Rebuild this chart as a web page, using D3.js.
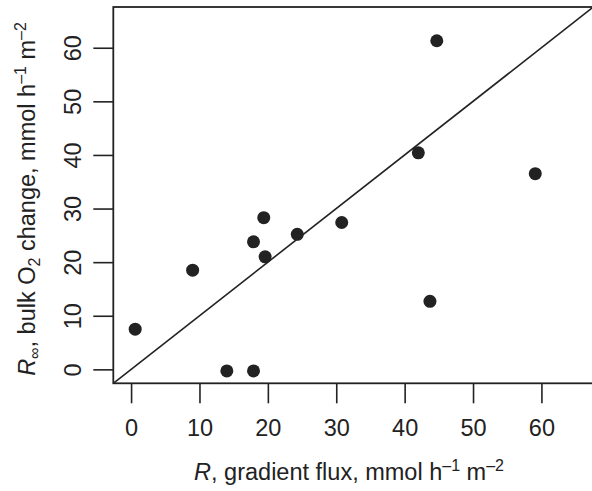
<!DOCTYPE html>
<html>
<head>
<meta charset="utf-8">
<script src="https://cdn.jsdelivr.net/npm/d3@7"></script>
<style>
  body { margin: 0; background: #fff; }
  svg { display: block; font-family: "Liberation Sans", Arial, sans-serif; }
</style>
</head>
<body>
<div id="chart"></div>
<script>
// gradient flux R (x) and bulk O2 change R-infinity (y), mmol h-1 m-2
var gradientFlux = [0.6, 9.0, 14.0, 17.9, 17.9, 19.4, 19.6, 24.3, 30.8, 42.0, 43.7, 44.7, 59.1];
var bulkChange   = [7.5, 18.5, -0.3, -0.3, 23.8, 28.3, 21.0, 25.2, 27.4, 40.4, 12.7, 61.3, 36.5];
var tickValues = [0, 10, 20, 30, 40, 50, 60];
var limits = [-2.6, 67.6];

var settings = {
  width: 592,
  height: 491,
  left: 113.3,
  right: 593.4,
  top: 7,
  bottom: 383.3,
  ink: '#222',
  font: 23.5,
  small: 16
};

var x = d3.scaleLinear().domain(limits).range([settings.left, settings.right]);
var y = d3.scaleLinear().domain(limits).range([settings.bottom, settings.top]);

var svg = d3.select('#chart').append('svg')
  .attr('width', settings.width)
  .attr('height', settings.height);

// x axis
var xAxis = svg.append('g')
  .attr('transform', 'translate(0,' + settings.bottom + ')')
  .call(d3.axisBottom(x).tickValues(tickValues).tickSize(20).tickPadding(16));
xAxis.select('.domain').remove();
xAxis.selectAll('line').attr('stroke', settings.ink).attr('stroke-width', 1.6);
xAxis.selectAll('text')
  .attr('fill', settings.ink)
  .style('font-size', settings.font + 'px')
  .style('font-family', '"Liberation Sans", Arial, sans-serif');

// y axis, labels turned like R's default
var yAxis = svg.append('g')
  .attr('transform', 'translate(' + settings.left + ',0)')
  .call(d3.axisLeft(y).tickValues(tickValues).tickSize(20));
yAxis.select('.domain').remove();
yAxis.selectAll('line').attr('stroke', settings.ink).attr('stroke-width', 1.6);
yAxis.selectAll('text')
  .attr('x', null).attr('dy', null)
  .attr('fill', settings.ink)
  .attr('text-anchor', 'middle')
  .attr('transform', 'translate(-32,0) rotate(-90)')
  .style('font-size', settings.font + 'px')
  .style('font-family', '"Liberation Sans", Arial, sans-serif');

// 1:1 line
svg.append('line')
  .attr('x1', x(limits[0])).attr('y1', y(limits[0]))
  .attr('x2', x(limits[1])).attr('y2', y(limits[1]))
  .attr('stroke', settings.ink)
  .attr('stroke-width', 1.6);

// box
svg.append('rect')
  .attr('x', x(limits[0])).attr('y', y(limits[1]))
  .attr('width', x(limits[1]) - x(limits[0]))
  .attr('height', y(limits[0]) - y(limits[1]))
  .attr('fill', 'none')
  .attr('stroke', settings.ink)
  .attr('stroke-width', 1.8);

// points
svg.append('g')
  .selectAll('circle')
  .data(d3.range(gradientFlux.length))
  .enter().append('circle')
  .attr('cx', function(i) { return x(gradientFlux[i]); })
  .attr('cy', function(i) { return y(bulkChange[i]); })
  .attr('r', 6.5)
  .attr('fill', settings.ink);

// axis titles
var xTitle = svg.append('text')
  .attr('x', 349).attr('y', 480)
  .attr('text-anchor', 'middle')
  .attr('fill', settings.ink)
  .style('font-size', settings.font + 'px');
xTitle.append('tspan').style('font-style', 'italic').text('R');
xTitle.append('tspan').text(', gradient flux, mmol h');
xTitle.append('tspan').attr('dy', -9).style('font-size', settings.small + 'px').text('\u20131');
xTitle.append('tspan').attr('dy', 9).text(' m');
xTitle.append('tspan').attr('dy', -9).style('font-size', settings.small + 'px').text('\u20132');

var yTitle = svg.append('text')
  .attr('transform', 'translate(35,199) rotate(-90)')
  .attr('text-anchor', 'middle')
  .attr('fill', settings.ink)
  .style('font-size', settings.font + 'px');
yTitle.append('tspan').style('font-style', 'italic').text('R');
yTitle.append('tspan').attr('dy', 5).style('font-size', settings.small + 'px').text('\u221e');
yTitle.append('tspan').attr('dy', -5).text(', bulk O');
yTitle.append('tspan').attr('dy', 5).style('font-size', settings.small + 'px').text('2');
yTitle.append('tspan').attr('dy', -5).text(' change, mmol h');
yTitle.append('tspan').attr('dy', -9).style('font-size', settings.small + 'px').text('\u20131');
yTitle.append('tspan').attr('dy', 9).text(' m');
yTitle.append('tspan').attr('dy', -9).style('font-size', settings.small + 'px').text('\u20132');
</script>
</body>
</html>
